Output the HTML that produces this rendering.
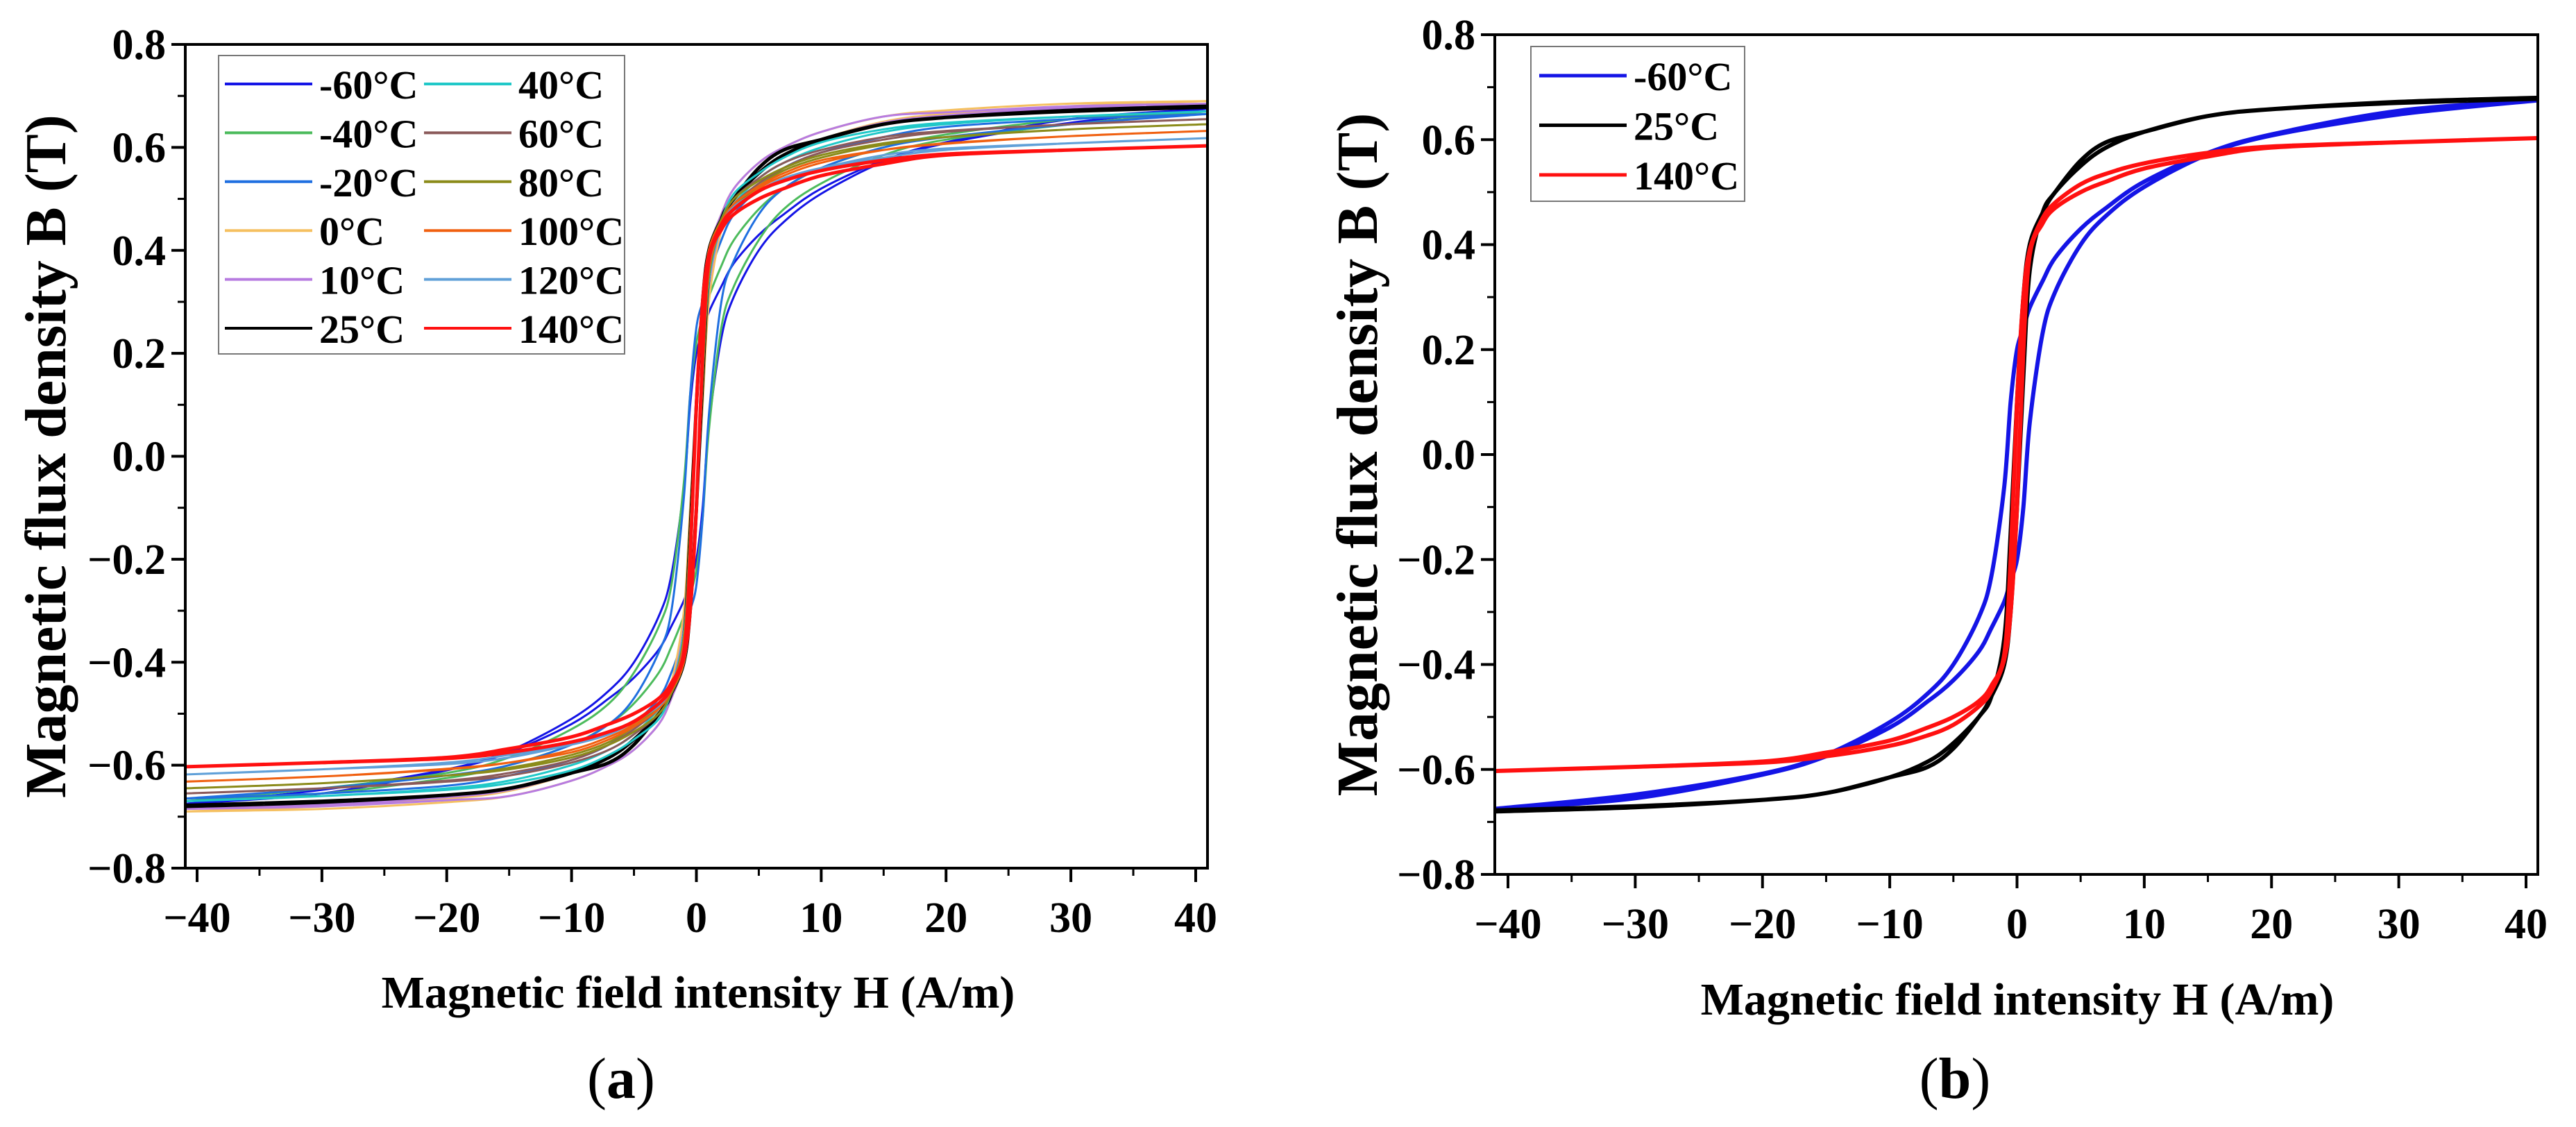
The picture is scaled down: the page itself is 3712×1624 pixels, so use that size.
<!DOCTYPE html>
<html><head><meta charset="utf-8"><style>
html,body{margin:0;padding:0;background:#fff;}
svg{display:block;font-family:"Liberation Serif",serif;}
</style></head><body>
<svg id="fig" width="3712" height="1624" viewBox="0 0 3712 1624" xmlns="http://www.w3.org/2000/svg"></svg>
<script>
const H = [-41,-30,-20,-15,-10,-7,-5,-3,-2,-1,-0.5,0,0.5,1,2,3,5,7,10,15,20,30,41];
const seriesNames = ['-60°C','-40°C','-20°C','0°C','10°C','25°C','40°C','60°C','80°C','100°C','120°C','140°C'];
const seriesColors = ['#1414e6','#4cbb5c','#1f6fe0','#f5c060','#b77be0','#000000','#20c8c8','#8b5a5a','#8b8b1a','#f06010','#60a0d8','#ff1010'];
const bM60 = [-0.675,-0.648,-0.608,-0.572,-0.51,-0.455,-0.40,-0.31,-0.23,-0.06,0.1,0.2,0.24,0.28,0.33,0.375,0.43,0.47,0.52,0.575,0.61,0.655,0.675];
const bM40 = [-0.67,-0.645,-0.615,-0.585,-0.53,-0.48,-0.42,-0.33,-0.25,-0.05,0.12,0.22,0.27,0.31,0.37,0.42,0.48,0.52,0.56,0.6,0.625,0.655,0.67];
const bM20 = [-0.665,-0.645,-0.62,-0.6,-0.56,-0.52,-0.47,-0.38,-0.3,-0.08,0.12,0.25,0.3,0.35,0.42,0.47,0.52,0.56,0.59,0.62,0.64,0.655,0.665];
const bZ0 = [-0.69,-0.68,-0.665,-0.65,-0.615,-0.58,-0.55,-0.49,-0.44,-0.3,-0.1,0.1,0.3,0.4,0.47,0.52,0.57,0.6,0.63,0.66,0.672,0.685,0.69];
const bP10 = [-0.685,-0.677,-0.662,-0.648,-0.615,-0.58,-0.55,-0.5,-0.45,-0.33,-0.15,0.1,0.3,0.4,0.47,0.52,0.57,0.6,0.63,0.66,0.668,0.68,0.685];
const bP25 = [-0.678,-0.67,-0.658,-0.645,-0.615,-0.595,-0.56,-0.5,-0.46,-0.35,-0.15,0.1,0.3,0.4,0.46,0.5,0.55,0.585,0.615,0.645,0.658,0.672,0.68];
const bP40 = [-0.67,-0.66,-0.645,-0.63,-0.6,-0.57,-0.54,-0.49,-0.45,-0.34,-0.15,0.1,0.3,0.4,0.46,0.51,0.55,0.58,0.61,0.635,0.648,0.66,0.67];
const bP60 = [-0.655,-0.645,-0.63,-0.615,-0.59,-0.56,-0.53,-0.49,-0.45,-0.35,-0.15,0.1,0.3,0.4,0.46,0.5,0.54,0.57,0.595,0.62,0.632,0.645,0.655];
const bP80 = [-0.645,-0.635,-0.62,-0.605,-0.58,-0.555,-0.525,-0.485,-0.45,-0.35,-0.15,0.1,0.3,0.4,0.46,0.5,0.535,0.56,0.585,0.608,0.62,0.635,0.645];
const bP100 = [-0.632,-0.622,-0.608,-0.595,-0.57,-0.545,-0.52,-0.48,-0.445,-0.36,-0.17,0.1,0.3,0.4,0.455,0.49,0.525,0.55,0.575,0.595,0.607,0.622,0.632];
const bP120 = [-0.618,-0.608,-0.598,-0.585,-0.56,-0.54,-0.515,-0.478,-0.445,-0.37,-0.18,0.1,0.3,0.39,0.45,0.485,0.515,0.54,0.56,0.58,0.595,0.608,0.618];
const bP140 = [-0.603,-0.595,-0.585,-0.568,-0.545,-0.52,-0.5,-0.47,-0.44,-0.38,-0.2,0.1,0.3,0.39,0.45,0.48,0.515,0.535,0.555,0.575,0.587,0.595,0.603];
const allSeries = [bM60,bM40,bM20,bZ0,bP10,bP25,bP40,bP60,bP80,bP100,bP120,bP140];
const xTicks = [-40,-30,-20,-10,0,10,20,30,40];
const yTicks = [0.8,0.6,0.4,0.2,0.0,-0.2,-0.4,-0.6,-0.8];
const yTickLabels = ['0.8','0.6','0.4','0.2','0.0','\u22120.2','\u22120.4','\u22120.6','\u22120.8'];
const xTickLabels = ['\u221240','\u221230','\u221220','\u221210','0','10','20','30','40'];

const NS='http://www.w3.org/2000/svg';
const svg=document.getElementById('fig');
function mk(tag,attrs,parent){const e=document.createElementNS(NS,tag);for(const k in attrs)e.setAttribute(k,attrs[k]);(parent||svg).appendChild(e);return e;}

function catmull(pts){
  let d='M'+pts[0][0].toFixed(1)+','+pts[0][1].toFixed(1);
  for(let i=0;i<pts.length-1;i++){
    const p0=pts[Math.max(0,i-1)],p1=pts[i],p2=pts[i+1],p3=pts[Math.min(pts.length-1,i+2)];
    const c1=[p1[0]+(p2[0]-p0[0])/6,p1[1]+(p2[1]-p0[1])/6];
    const c2=[p2[0]-(p3[0]-p1[0])/6,p2[1]-(p3[1]-p1[1])/6];
    d+='C'+c1[0].toFixed(1)+','+c1[1].toFixed(1)+' '+c2[0].toFixed(1)+','+c2[1].toFixed(1)+' '+p2[0].toFixed(1)+','+p2[1].toFixed(1);
  }
  return d;
}

function panel(cfg){
  const g=mk('g',{});
  
  
  const sx=v=>cfg.x0+(v+40)*(cfg.x40-cfg.x0)/80;
  const sy=v=>cfg.y08+(0.8-v)*(cfg.ym08-cfg.y08)/1.6;
  const cid='clip-'+cfg.name;
  const cp=mk('clipPath',{id:cid},g);
  mk('rect',{x:cfg.L,y:cfg.T,width:cfg.R-cfg.L,height:cfg.B-cfg.T},cp);
  const cg=mk('g',{'clip-path':'url(#'+cid+')'},g);
  cfg.idx.forEach(i=>{
    const arr=allSeries[i];
    const up=[];for(let k=H.length-1;k>=0;k--)up.push([sx(H[k]),sy(arr[k])]);
    const lo=[];for(let k=0;k<H.length;k++)lo.push([sx(-H[H.length-1-k]),sy(-arr[H.length-1-k])]);
    const p=mk('path',{d:catmull(up)+' '+catmull(lo),fill:'none',stroke:seriesColors[i],'stroke-width':cfg.sw(i),'stroke-linejoin':'round'},cg);
    
    
  });
  const fr=mk('rect',{x:cfg.L,y:cfg.T,width:cfg.R-cfg.L,height:cfg.B-cfg.T,fill:'none',stroke:'#000','stroke-width':4},g);
  
  
  yTicks.forEach((v,i)=>{
    const y=sy(v);
    mk('line',{x1:cfg.L-20,x2:cfg.L,y1:y,y2:y,stroke:'#000','stroke-width':4},g);
    if(i<yTicks.length-1){const ym=sy(v-0.1);mk('line',{x1:cfg.L-11,x2:cfg.L,y1:ym,y2:ym,stroke:'#000','stroke-width':3},g);}
    const t=mk('text',{x:cfg.L-28,y:y+21,'text-anchor':'end','font-size':62,'font-weight':'bold'},g);
    t.textContent=yTickLabels[i];
    
    
  });
  xTicks.forEach((v,i)=>{
    const x=sx(v);
    mk('line',{x1:x,x2:x,y1:cfg.B,y2:cfg.B+20,stroke:'#000','stroke-width':4},g);
    if(i<xTicks.length-1){const xm=sx(v+5);mk('line',{x1:xm,x2:xm,y1:cfg.B,y2:cfg.B+11,stroke:'#000','stroke-width':3},g);}
    const t=mk('text',{x:x,y:cfg.B+92,'text-anchor':'middle','font-size':62,'font-weight':'bold'},g);
    t.textContent=xTickLabels[i];
    
    
  });
  const yt=mk('text',{x:0,y:0,transform:'translate('+cfg.ytx+','+((cfg.T+cfg.B)/2)+') rotate(-90)','text-anchor':'middle','font-size':84,'font-weight':'bold'},g);
  yt.textContent='Magnetic flux density B (T)';
  
  
  const xt=mk('text',{x:cfg.xtx,y:cfg.xty,'text-anchor':'middle','font-size':66,'font-weight':'bold'},g);
  xt.textContent='Magnetic field intensity H (A/m)';
  
  
  const cap=mk('text',{x:cfg.capx,y:1582,'text-anchor':'middle','font-size':84},g);
  cap.innerHTML='(<tspan font-weight="bold">'+cfg.cap+'</tspan>)';
  
  
  const lg=mk('g',{},g);
  
  
  mk('rect',{x:cfg.lg.x,y:cfg.lg.y,width:cfg.lg.w,height:cfg.lg.h,fill:'#fff',stroke:'#777','stroke-width':2},lg);
  cfg.idx.forEach((si,n)=>{
    const col=Math.floor(n/cfg.lg.rows),row=n%cfg.lg.rows;
    const ly=cfg.lg.ry0+row*cfg.lg.rdy;
    const lx=cfg.lg.cx[col];
    const e=mk('g',{},lg);
    
    
    mk('line',{x1:lx,x2:lx+126,y1:ly,y2:ly,stroke:seriesColors[si],'stroke-width':cfg.lg.sw},e);
    const t=mk('text',{x:lx+136,y:ly+21,'font-size':58,'font-weight':'bold'},e);
    t.textContent=seriesNames[si];
  });
}

panel({name:'panel-a',L:267,R:1740,T:64,B:1251,x0:284,x40:1723,y08:64,ym08:1251,
  idx:[0,1,2,3,4,5,6,7,8,9,10,11],sw:i=>(i===5||i===11)?5:3,
  ytx:94,xtx:1006,xty:1452,capx:895,cap:'a',
  lg:{x:315,y:80,w:585,h:430,rows:6,ry0:121,rdy:70.4,cx:[324,611],sw:4}});
panel({name:'panel-b',L:2154,R:3657,T:50,B:1260,x0:2173,x40:3640,y08:50,ym08:1260,
  idx:[0,5,11],sw:i=>6,
  ytx:1984,xtx:2907,xty:1462,capx:2817,cap:'b',
  lg:{x:2206,y:67,w:308,h:223,rows:3,ry0:109,rdy:71.5,cx:[2218],sw:5}});
</script>
</body></html>
